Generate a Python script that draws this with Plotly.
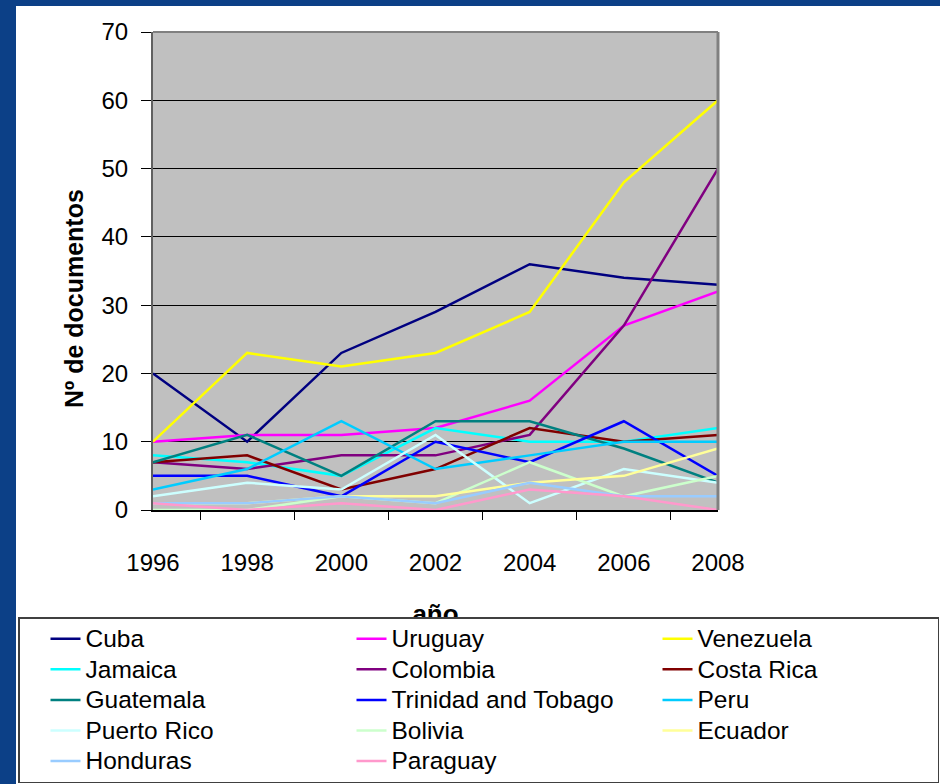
import plotly.graph_objects as go

# Documentos por país y año
years = ["1996", "1998", "2000", "2002", "2004", "2006", "2008"]

cuba = [20, 10, 23, 29, 36, 34, 33]
uruguay = [10, 11, 11, 12, 16, 27, 32]
venezuela = [10, 23, 21, 23, 29, 48, 60]
jamaica = [8, 7, 5, 12, 10, 10, 12]
colombia = [7, 6, 8, 8, 11, 27, 50]
costa_rica = [7, 8, 3, 6, 12, 10, 11]
guatemala = [7, 11, 5, 13, 13, 9, 4]
trinidad = [5, 5, 2, 10, 7, 13, 5]
peru = [3, 6, 13, 6, 8, 10, 10]
puerto_rico = [2, 4, 3, 11, 1, 6, 4]
bolivia = [0, 0, 2, 1, 7, 2, 5]
ecuador = [1, 1, 2, 2, 4, 5, 9]
honduras = [1, 1, 2, 1, 4, 2, 2]
paraguay = [1, 0, 1, 0, 3, 2, 0]

series = [
    ("Cuba", cuba, "#000080"),
    ("Uruguay", uruguay, "#FF00FF"),
    ("Venezuela", venezuela, "#FFFF00"),
    ("Jamaica", jamaica, "#00FFFF"),
    ("Colombia", colombia, "#800080"),
    ("Costa Rica", costa_rica, "#800000"),
    ("Guatemala", guatemala, "#008080"),
    ("Trinidad and Tobago", trinidad, "#0000FF"),
    ("Peru", peru, "#00CCFF"),
    ("Puerto Rico", puerto_rico, "#CCFFFF"),
    ("Bolivia", bolivia, "#CCFFCC"),
    ("Ecuador", ecuador, "#FFFF99"),
    ("Honduras", honduras, "#99CCFF"),
    ("Paraguay", paraguay, "#FF99CC"),
]

W, H = 940, 784
FONT = "Liberation Sans, Arial, sans-serif"

fig = go.Figure()
for name, vals, color in series:
    fig.add_trace(go.Scatter(
        x=years, y=vals, mode="lines",
        # texto de la leyenda algo mayor que el interlineado de la leyenda
        name=f'<span style="font-size:24.5px">{name}</span>',
        hovertemplate=f"{name}<br>%{{x}}: %{{y}}<extra></extra>",
        line=dict(color=color, width=2.5),
    ))

def px_x(v):
    return v / W

def px_y(v):
    return 1 - v / H

fig.update_layout(
    width=W, height=H, autosize=False,
    margin=dict(l=0, r=0, t=0, b=0, autoexpand=False),
    paper_bgcolor="white",
    plot_bgcolor="#C0C0C0",
    font=dict(family=FONT, size=24, color="black"),
    showlegend=True,
    legend=dict(
        orientation="h",
        x=px_x(18), xanchor="left",
        y=px_y(617), yanchor="top",
        bgcolor="white",
        bordercolor="#404040", borderwidth=1.5,
        font=dict(family=FONT, size=21.2, color="black"),
        entrywidth=235, entrywidthmode="pixels",
        indentation=26,
        traceorder="normal",
    ),
    xaxis=dict(
        domain=[px_x(153), px_x(718)],
        type="category",
        showgrid=False,
        showline=True, linecolor="black", linewidth=1.5,
        ticks="outside", ticklen=8, tickcolor="black", tickwidth=1,
        tickson="boundaries",
        ticklabelstandoff=30,
        tickfont=dict(family=FONT, size=24),
        title=dict(text="<b>año</b>", font=dict(family=FONT, size=26), standoff=30),
        automargin=False,
        fixedrange=True,
    ),
    yaxis=dict(
        domain=[px_y(510), px_y(32)],
        range=[0, 70], dtick=10,
        showgrid=True, gridcolor="black", gridwidth=1,
        zeroline=False,
        showline=True, linecolor="#606060", linewidth=2,
        ticks="outside", ticklen=10, tickcolor="black", tickwidth=1,
        ticklabelstandoff=8,
        tickfont=dict(family=FONT, size=24),
        automargin=False,
        fixedrange=True,
    ),
    shapes=[
        # fondo azul del marco de la diapositiva
        dict(type="rect", xref="paper", yref="paper", x0=0, x1=px_x(16), y0=0, y1=1,
             fillcolor="#0c4087", line=dict(width=0), layer="below"),
        dict(type="rect", xref="paper", yref="paper", x0=0, x1=1, y0=px_y(6), y1=1,
             fillcolor="#0c4087", line=dict(width=0), layer="below"),
        # borde del área de trazado
        dict(type="line", xref="x domain", yref="y domain", x0=0, x1=1, y0=1, y1=1,
             line=dict(color="#808080", width=2), layer="above"),
        dict(type="line", xref="x domain", yref="y domain", x0=1, x1=1, y0=0, y1=1,
             line=dict(color="#808080", width=3), layer="above"),
    ],
    annotations=[
        dict(text="<b>Nº de documentos</b>", textangle=-90,
             xref="paper", yref="paper", x=px_x(74), y=px_y(299),
             xanchor="center", yanchor="middle", showarrow=False,
             font=dict(family=FONT, size=25, color="black")),
    ],
)

# la leyenda se dibuja por encima del título del eje x
post = """
var gd = document.getElementById('{plot_id}');
var il = gd.querySelector('.infolayer');
var lg = il && il.querySelector('.legend');
if (lg) { il.appendChild(lg); }
"""

fig.write_html("out.html", post_script=post)
